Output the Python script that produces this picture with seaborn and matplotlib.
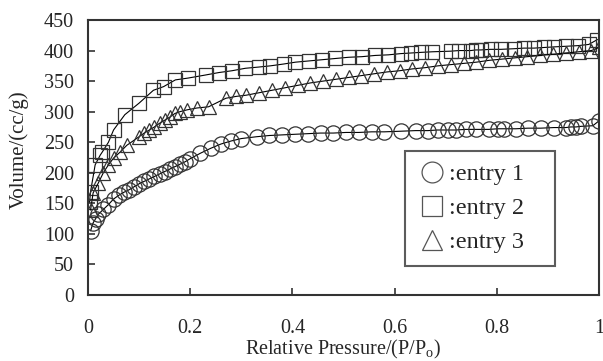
import matplotlib
matplotlib.use("Agg")
import matplotlib.pyplot as plt
from matplotlib.lines import Line2D
import seaborn as sns
import pandas as pd

# --- data ---
x1 = [0.005, 0.01, 0.015, 0.02, 0.03, 0.04, 0.05, 0.06, 0.07, 0.08, 0.09, 0.10, 0.11, 0.12,
      0.13, 0.14, 0.15, 0.16, 0.17, 0.18, 0.19, 0.20, 0.22, 0.24, 0.26, 0.28, 0.30, 0.33,
      0.355, 0.38, 0.405, 0.43, 0.455, 0.48, 0.505, 0.53, 0.555, 0.58, 0.612, 0.641, 0.665,
      0.684, 0.704, 0.72, 0.739, 0.759, 0.784, 0.802, 0.814, 0.837, 0.861, 0.886, 0.912,
      0.935, 0.945, 0.955, 0.965, 0.988, 1.0]
y1 = [105, 118, 125, 132, 140, 148, 157, 163, 168, 172, 177, 182, 186, 190,
      194, 198, 202, 206, 210, 214, 218, 223, 232, 240, 247, 252, 256, 259,
      261, 262, 263, 264, 265, 265, 266, 266, 267, 267, 268, 269, 269,
      270, 270, 270, 271, 271, 271, 272, 272, 272, 273, 273, 274,
      274, 275, 275, 276, 277, 285]

x2 = [0.003, 0.005, 0.014, 0.024, 0.028, 0.04, 0.05, 0.072, 0.10, 0.128, 0.148, 0.171,
      0.196, 0.23, 0.256, 0.282, 0.308, 0.334, 0.357, 0.383, 0.406, 0.432, 0.458, 0.484,
      0.51, 0.536, 0.562, 0.588, 0.612, 0.632, 0.651, 0.674, 0.71, 0.726, 0.749, 0.759,
      0.769, 0.788, 0.808, 0.834, 0.853, 0.873, 0.892, 0.912, 0.935, 0.958, 0.98, 0.997]
y2 = [152, 169, 213, 229, 234, 250, 270, 295, 314, 335, 341, 352,
      355, 360, 364, 367, 371, 373, 375, 378, 381, 383, 385, 387,
      389, 390, 392, 393, 395, 396, 397, 398, 399, 400, 400, 401,
      401, 402, 402, 403, 404, 404, 405, 406, 407, 408, 410, 418]

x3 = [0.005, 0.01, 0.02, 0.03, 0.04, 0.05, 0.063, 0.076, 0.10, 0.11, 0.12, 0.13, 0.14,
      0.15, 0.16, 0.17, 0.18, 0.194, 0.213, 0.236, 0.27, 0.29, 0.31, 0.335, 0.36, 0.385,
      0.41, 0.435, 0.46, 0.485, 0.51, 0.535, 0.56, 0.585, 0.61, 0.635, 0.66, 0.685, 0.71,
      0.735, 0.76, 0.785, 0.81, 0.835, 0.86, 0.885, 0.91, 0.935, 0.96, 0.985, 1.0]
y3 = [139, 167, 183, 200, 213, 224, 234, 245, 259, 265, 270, 275, 281,
      286, 291, 297, 300, 303, 306, 308, 322, 325, 327, 331, 335, 339,
      343, 347, 350, 353, 356, 359, 362, 365, 367, 370, 372, 375, 377,
      379, 381, 384, 386, 388, 390, 392, 394, 396, 398, 400, 405]

labels = [":entry 1", ":entry 2", ":entry 3"]
markers = ["o", "s", "^"]
marker_sizes = [11, 9.5, 10.5]
x_ticks = [0, 0.2, 0.4, 0.6, 0.8, 1]
x_tick_labels = ["0", "0.2", "0.4", "0.6", "0.8", "1"]
y_ticks = [0, 50, 100, 150, 200, 250, 300, 350, 400, 450]

# --- style ---
sns.set_style("ticks")
plt.rcParams["font.family"] = ["Liberation Serif", "DejaVu Serif"]
plt.rcParams["mathtext.fontset"] = "custom"
plt.rcParams["mathtext.rm"] = "Liberation Serif"
edge = "#333333"

fig = plt.figure(figsize=(6.03, 3.61), dpi=100)
ax = fig.add_axes([88 / 603, 1 - 295 / 361, (599 - 88) / 603, (295 - 20) / 361])

series = [(x1, y1), (x2, y2), (x3, y3)]
for (xs, ys), mk, ms in zip(series, markers, marker_sizes):
    df = pd.DataFrame({"x": xs, "y": ys})
    sns.lineplot(data=df, x="x", y="y", ax=ax, estimator=None, sort=False,
                 color="black", linewidth=0.8, marker=mk, markersize=ms,
                 markerfacecolor="none", markeredgecolor=edge, markeredgewidth=0.9)

ax.set_xlim(0, 1)
ax.set_ylim(0, 450)
ax.set_xticks(x_ticks)
ax.set_xticklabels(x_tick_labels)
ax.set_yticks(y_ticks)
ax.tick_params(direction="in", length=5, width=1.2, color=edge, labelsize=14.5)
ax.tick_params(axis="x", pad=17)
ax.tick_params(axis="y", pad=10)
for sp in ax.spines.values():
    sp.set_visible(True)
    sp.set_linewidth(1.5)
    sp.set_color(edge)

ax.set_xlabel(r"Relative Pressure/(P/P$_{\mathregular{o}}$)", fontsize=14.5, labelpad=0)
ax.set_ylabel("Volume/(cc/g)", fontsize=15, labelpad=6)
ax.yaxis.set_label_coords(-0.115, 0.53)

# legend: bare open markers, no line through the handle
handles = [Line2D([], [], linestyle="none", marker=mk, markersize=15,
                  markerfacecolor="none", markeredgecolor="#555555", markeredgewidth=0.9)
           for mk in markers]
leg = ax.legend(handles, labels, loc="upper left",
                bbox_to_anchor=((405 - 88) / 511, (295 - 151) / 275, 150 / 511, 0.0),
                mode="expand", fontsize=17.5, frameon=True, fancybox=False,
                handlelength=1.2, handletextpad=0.12, borderpad=0.5,
                labelspacing=0.5, borderaxespad=0)
leg.get_frame().set_edgecolor(edge)
leg.get_frame().set_linewidth(1.5)

fig.savefig("out.png", dpi=100)
